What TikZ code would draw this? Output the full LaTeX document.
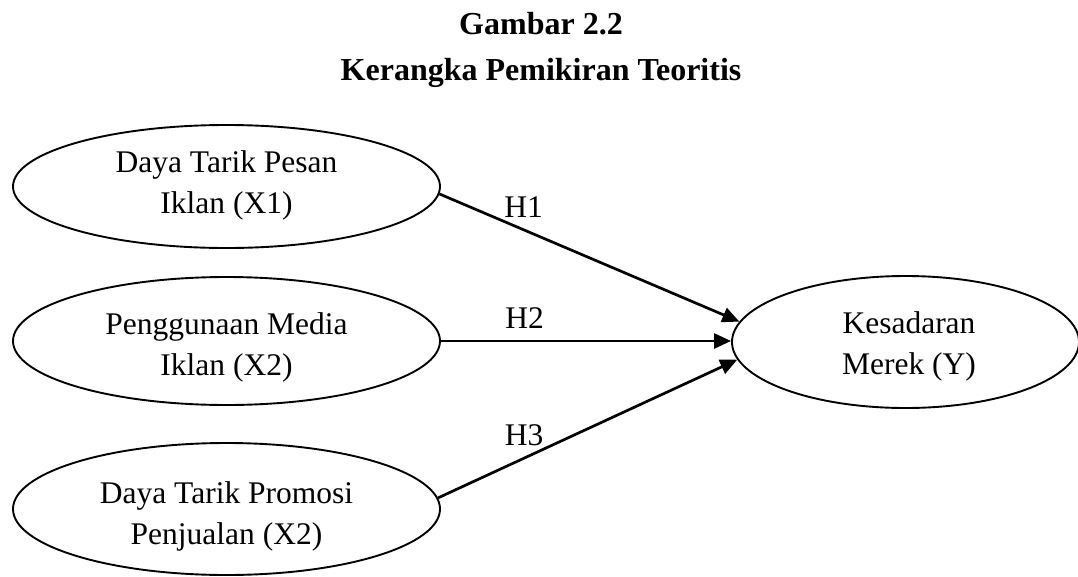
\documentclass[tikz,border=0pt]{standalone}
\usepackage{fontspec}
\setmainfont{Liberation Serif}
\usetikzlibrary{shapes.geometric,arrows.meta}
\begin{document}
\begin{tikzpicture}[x=1pt,y=-1pt,
  ell/.style={draw, line width=1.9pt, ellipse, inner sep=0pt},
  lbl/.style={font=\fontsize{31.5}{41}\selectfont, align=center, inner sep=0pt},
  ttl/.style={font=\bfseries\fontsize{32}{46}\selectfont, inner sep=0pt, anchor=base},
  hyp/.style={font=\fontsize{31.5}{41}\selectfont, inner sep=0pt},
  arr/.style={line width=2.7pt, -{Triangle[length=17pt,width=15pt]}}]
\useasboundingbox (0,0) rectangle (1078,576);

\node[ttl] (title1) at (541,34) {Gambar 2.2};
\node[ttl] (title2) at (541,80) {Kerangka Pemikiran Teoritis};

\node[ell, minimum width=427pt, minimum height=123pt] (e1) at (226.5,186.5) {};
\node[ell, minimum width=427pt, minimum height=128pt] (e2) at (226.5,341) {};
\node[ell, minimum width=427pt, minimum height=132pt] (e3) at (226.5,509) {};
\node[ell, minimum width=347pt, minimum height=132pt] (y) at (905.5,342) {};

\node[lbl] (t1) at (226.5,185) {Daya Tarik Pesan\\Iklan (X1)};
\node[lbl] (t2) at (226.5,347) {Penggunaan Media\\Iklan (X2)};
\node[lbl] (t3) at (226.5,516) {Daya Tarik Promosi\\Penjualan (X2)};
\node[lbl] (ty) at (909,346) {Kesadaran\\Merek (Y)};

\draw[arr] (e1.-2.3) -- (y.173.5);
\draw[arr] (e2.east) -- (e2.east -| y.west);
\draw[arr] (e3.3) -- (y.186.1);

\node[hyp] (h1) at (523.5,207.5) {H1};
\node[hyp] (h2) at (524.5,318) {H2};
\node[hyp] (h3) at (524,435) {H3};
\end{tikzpicture}
\end{document}
